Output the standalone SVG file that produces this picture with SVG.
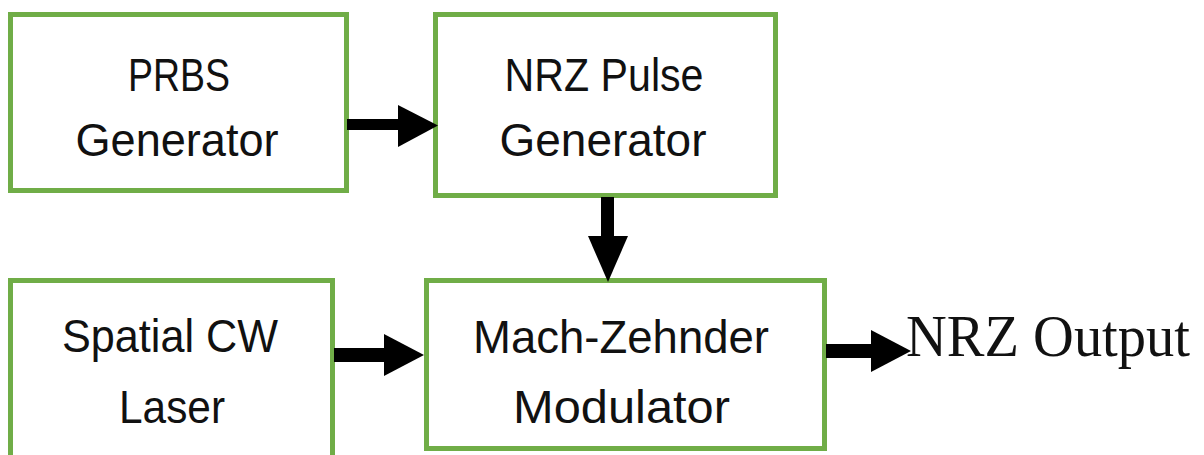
<svg xmlns="http://www.w3.org/2000/svg" width="1204" height="455" viewBox="0 0 1204 455">
<style>
.box{fill:#fff;stroke:#70AD47;stroke-width:5}
.lbl{font-family:"Liberation Sans",Arial,sans-serif;font-size:46px;fill:#111;text-anchor:middle}
.out{font-family:"Liberation Serif","Times New Roman",serif;font-size:59px;fill:#111}
.shaft{fill:#000}
.head{fill:#000}
</style>
<rect width="1204" height="455" fill="#fff"/>
<g id="prbs">
<rect class="box" x="10.5" y="14.5" width="336" height="176"/>
<text class="lbl" x="179" y="91" textLength="102" lengthAdjust="spacingAndGlyphs">PRBS</text>
<text class="lbl" x="177" y="156" textLength="203" lengthAdjust="spacingAndGlyphs">Generator</text>
</g>
<g id="nrz">
<rect class="box" x="435.5" y="14.5" width="340" height="181"/>
<text class="lbl" x="604" y="91" textLength="199" lengthAdjust="spacingAndGlyphs">NRZ Pulse</text>
<text class="lbl" x="603" y="156" textLength="207" lengthAdjust="spacingAndGlyphs">Generator</text>
</g>
<g id="laser">
<rect class="box" x="10.5" y="280.5" width="322" height="190"/>
<text class="lbl" x="170" y="352" textLength="216" lengthAdjust="spacingAndGlyphs">Spatial CW</text>
<text class="lbl" x="172" y="423" textLength="106" lengthAdjust="spacingAndGlyphs">Laser</text>
</g>
<g id="mzm">
<rect class="box" x="426.5" y="280.5" width="398" height="168"/>
<text class="lbl" x="621" y="353" textLength="296" lengthAdjust="spacingAndGlyphs">Mach-Zehnder</text>
<text class="lbl" x="621.5" y="423" textLength="217" lengthAdjust="spacingAndGlyphs">Modulator</text>
</g>
<g id="output">
<text class="out" x="906" y="356" textLength="284" lengthAdjust="spacingAndGlyphs">NRZ Output</text>
</g>
<g id="connectors">
<rect class="shaft" x="347" y="119" width="52" height="11"/>
<polygon class="head" points="398,105 438,125.5 398,147"/>
<rect class="shaft" x="601" y="197" width="13" height="40"/>
<polygon class="head" points="588,236 628,236 608,282"/>
<rect class="shaft" x="334" y="348" width="51" height="14"/>
<polygon class="head" points="384,334 424,355 384,376"/>
<rect class="shaft" x="826" y="344" width="46" height="14"/>
<polygon class="head" points="871,330 911,351 871,372"/>
</g>
</svg>
